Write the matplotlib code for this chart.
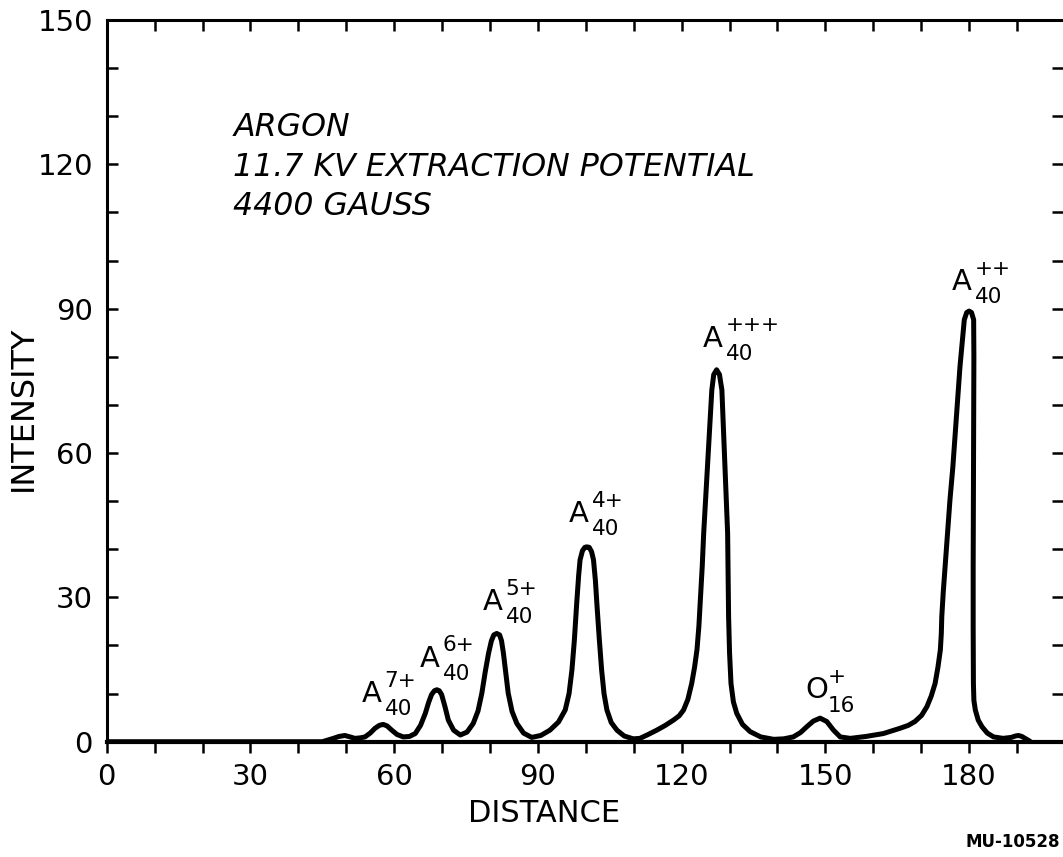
import matplotlib
matplotlib.use("Agg")
import matplotlib.pyplot as plt
import matplotlib.lines as mlines

# spectrum trace (distance, intensity)
distance = [0, 10, 20, 30, 40, 45, 46, 47.3, 48.5, 49.7, 50.8, 51.8, 52.9, 53.9, 55.0,
            56.0, 56.9, 57.7, 58.5, 59.5, 60.6, 61.9, 63.2, 64.4, 65.5, 66.5, 67.2, 67.8,
            68.4, 68.9, 69.4, 69.9, 70.6, 71.3, 72.4, 73.8, 75.2, 76.5, 77.5, 78.3, 79.0,
            79.7, 80.3, 80.8, 81.4, 82.0, 82.4, 82.8, 83.3, 83.8, 84.6, 85.6, 87.0, 88.7,
            90.6, 92.5, 94.3, 95.7, 96.5, 97.1, 97.6, 98.1, 98.5, 98.8, 99.3, 99.8, 100.2,
            100.7, 101.2, 101.6, 102.0, 102.3, 102.8, 103.3, 103.8, 104.4, 105.3, 106.5,
            108.0, 109.9, 111.3, 113.0, 114.8, 116.6, 118.3, 119.5, 120.4, 121.3, 122.1,
            122.7, 123.2, 123.6, 123.9, 124.3, 124.6, 125.1, 125.6, 126.0, 126.3, 126.7,
            127.3, 127.9, 128.4, 128.65, 128.9, 129.3, 129.6, 129.7, 129.8, 130.0, 130.3,
            130.8, 131.5, 132.7, 134.3, 136.5, 139.2, 141.3, 143.3, 144.8, 146.1, 147.5,
            148.9, 150.3, 151.7, 153.1, 155.2, 158.5, 162.1, 165.6, 167.3, 168.7, 170.1,
            171.2, 172.1, 172.9, 173.5, 174.0, 174.2, 174.3, 174.6, 175.0, 175.5, 176.0,
            176.6, 177.1, 177.6, 178.1, 178.6, 179.0, 179.5, 180.0, 180.5, 180.95, 181.0,
            180.95, 180.9, 180.85, 180.85, 180.9, 181.0, 181.3, 181.9, 182.7, 183.8, 185.1,
            187.1, 188.8, 189.7, 190.3, 191.0, 191.5, 192.2, 192.7]
intensity = [0, 0, 0, 0, 0, 0, 0.3, 0.7, 1.1, 1.3, 1.0, 0.7, 0.8, 1.0, 1.8,
             2.8, 3.4, 3.6, 3.3, 2.4, 1.5, 1.0, 1.1, 1.7, 3.4, 5.9, 8.2, 9.8,
             10.6, 10.8, 10.6, 9.8, 7.3, 4.5, 2.4, 1.4, 2.0, 3.8, 6.4, 10.1, 14.5,
             18.4, 21.0, 22.2, 22.5, 22.2, 21.0, 18.4, 14.2, 10.1, 6.3, 3.8, 1.8, 0.9,
             1.3, 2.4, 4.1, 6.6, 10.0, 14.9, 21.0, 28.8, 34.5, 37.8, 39.7, 40.4, 40.5,
             40.4, 39.5, 37.8, 33.5, 28.8, 21.5, 14.9, 10.0, 6.6, 4.0, 2.4,
             1.2, 0.6, 0.7, 1.5, 2.4, 3.4, 4.5, 5.4, 6.6, 8.8, 12.1,
             15.5, 19.1, 24.0, 29.5, 36.5, 43.3, 52.0, 60.6, 67.5, 73.1, 76.3,
             77.3, 76.3, 73.1, 67.0, 60.6, 51.5, 43.3, 35.0, 26.0, 18.5, 12.1,
             8.3, 5.9, 3.6, 2.1, 1.0, 0.5, 0.6, 1.0, 1.9, 3.1, 4.3,
             4.9, 4.2, 2.4, 1.0, 0.7, 1.1, 1.7, 2.8, 3.4, 4.2, 5.5,
             7.3, 9.5, 12.1, 15.5, 19.1, 22.5, 26.0, 31.0, 36.4, 43.3, 50.2,
             57.0, 64.1, 71.0, 78.0, 83.5, 87.7, 89.2, 89.5, 89.2, 87.7, 80.0,
             64.2, 50.0, 36.4, 24.0, 12.1, 8.6, 6.6, 4.5, 3.1, 1.8, 1.0,
             0.7, 0.9, 1.2, 1.3, 1.1, 0.8, 0.4, 0.1]

# peak labels: base letter, superscript, subscript, left x, baseline y
peak_base = ["A", "A", "A", "A", "A", "O", "A"]
peak_sup = ["7+", "6+", "5+", "4+", "+++", "+", "++"]
peak_sub = ["40", "40", "40", "40", "40", "16", "40"]
label_x = [53.2, 65.3, 78.5, 96.4, 124.4, 145.8, 176.4]
label_y = [8.3, 15.6, 27.4, 45.7, 82.1, 9.0, 93.9]

info_lines = ["ARGON", "11.7 KV EXTRACTION POTENTIAL", "4400 GAUSS"]
info_y = [125.8, 117.5, 109.5]

x_major = [0, 30, 60, 90, 120, 150, 180]
x_minor = list(range(0, 200, 10))
y_major = [0, 30, 60, 90, 120, 150]

plt.rcParams['font.family'] = ['DejaVu Sans']

fig = plt.figure(figsize=(10.63, 8.57), dpi=100)
ax = fig.add_axes([0.1004, 0.1345, 0.8996, 0.8422])

ax.plot(distance, intensity, color='black', lw=3.6, solid_joinstyle='round',
        solid_capstyle='round')

ax.set_xlim(0, 199.6)
ax.set_ylim(0, 150)

ax.set_xticks(x_major)
ax.set_xticks(x_minor, minor=True)
ax.set_yticks(y_major)
ax.set_yticks(range(0, 151, 10), minor=True)

# top ticks point inward; bottom ones are drawn below as markers
ax.tick_params(axis='x', which='both', direction='in', length=8, width=1.8,
               bottom=False, top=True, labelbottom=True, labelsize=21, pad=15,
               color='black')
ax.tick_params(axis='y', which='both', direction='in', length=8, width=1.8,
               left=True, right=True, labelsize=21, pad=10)

# tick marks hanging below the bottom axis
ax.plot(x_minor, [0] * len(x_minor), linestyle='none', marker=mlines.TICKDOWN,
        markersize=8, markeredgewidth=1.8, color='black',
        transform=ax.get_xaxis_transform(), clip_on=False, zorder=5)

ax.spines['left'].set_linewidth(2.2)
ax.spines['top'].set_linewidth(2.2)
ax.spines['bottom'].set_linewidth(3.0)
ax.spines['right'].set_visible(False)

ax.set_xlabel("DISTANCE", fontsize=22)
ax.xaxis.set_label_coords(0.457, -0.0999)
ax.xaxis.label.set_va('center')
ax.set_ylabel("INTENSITY", fontsize=23)
ax.yaxis.set_label_coords(-0.0876, 0.462)
ax.yaxis.label.set_va('center')

for txt, yy in zip(info_lines, info_y):
    ax.text(26.4, yy, txt, fontsize=22.8, style='italic', ha='left', va='baseline')

for base, sup, sub, xx, yy in zip(peak_base, peak_sup, peak_sub, label_x, label_y):
    ax.text(xx, yy, base, fontsize=21, ha='left', va='baseline')
    ax.annotate(sup, (xx, yy), xytext=(16.5, 11), textcoords='offset points',
                fontsize=15.5, ha='left', va='baseline')
    ax.annotate(sub, (xx, yy), xytext=(16.5, -9.5), textcoords='offset points',
                fontsize=15.5, ha='left', va='baseline')

fig.text(0.997, 0.007, "MU-10528", fontsize=12, fontweight='bold', ha='right', va='bottom')

fig.savefig("out.png", dpi=100)
